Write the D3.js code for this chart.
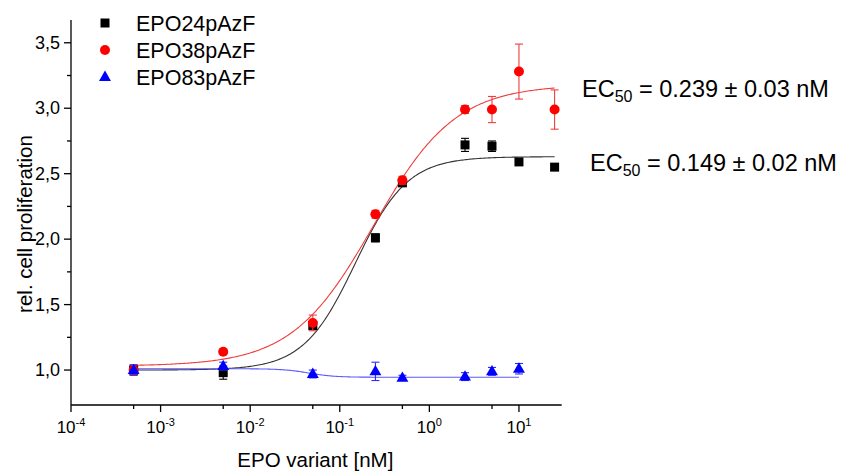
<!DOCTYPE html>
<html>
<head>
    <meta charset="utf-8">
    <title>EPO variants - cell proliferation</title>
    <script src="https://d3js.org/d3.v7.min.js"></script>
    <style>
        body { margin: 0; background: #fff; }
        text { font-family: "Liberation Sans", Arial, sans-serif; fill: #000; }
    </style>
</head>
<body>
    <script>
        // concentrations (nM)
        const conc = [0.0005, 0.005, 0.05, 0.25, 0.5, 2.5, 5, 10, 25];

        const epo24 = [1.00, 0.98, 1.34, 2.01, 2.43, 2.72, 2.71, 2.59, 2.55];
        const epo24Err = [0.03, 0.05, 0.03, 0.03, 0.02, 0.05, 0.04, 0.02, 0.02];

        const epo38 = [1.00, 1.14, 1.36, 2.19, 2.45, 2.99, 2.99, 3.28, 2.99];
        const epo38Err = [0.04, 0.02, 0.06, 0.03, 0.03, 0.03, 0.10, 0.21, 0.15];

        const epo83 = [1.00, 1.03, 0.97, 0.99, 0.94, 0.95, 0.99, 1.01];
        const epo83Err = [0.04, 0.03, 0.03, 0.07, 0.02, 0.03, 0.03, 0.04];

        // dose-response fit parameters (bottom, top, EC50, hill) per variant
        const fitBottom = [1.00, 1.03, 1.01];
        const fitTop = [2.63, 3.18, 0.945];
        const fitEC50 = [0.149, 0.239, 0.045];
        const fitHill = [1.5, 0.95, 3];

        const seriesNames = ["EPO24pAzF", "EPO38pAzF", "EPO83pAzF"];
        const xTicks = [1e-4, 1e-3, 1e-2, 1e-1, 1e0, 1e1];
        const xTickExp = ["-4", "-3", "-2", "-1", "0", "1"];
        const xMinor = [5e-4, 5e-3, 5e-2, 5e-1, 5e0];
        const yTicks = [1.0, 1.5, 2.0, 2.5, 3.0, 3.5];
        const yMinor = [1.25, 1.75, 2.25, 2.75, 3.25];
        const ec50Labels = ["0.239 \u00b1 0.03 nM", "0.149 \u00b1 0.02 nM"];

        const width = 845, height = 473;

        const x = d3.scaleLog().domain([1e-4, 30]).range([71, 561.7]);
        const y = d3.scaleLinear().domain([0.733, 3.674]).range([405, 20]);

        const svg = d3.select("body").append("svg")
            .attr("width", width)
            .attr("height", height);

        svg.append("rect").attr("width", width).attr("height", height).attr("fill", "#fff");

        // axes
        const axes = svg.append("g").attr("stroke", "#000").attr("stroke-width", 1.3);
        axes.append("line").attr("x1", 71).attr("x2", 561.7).attr("y1", 405).attr("y2", 405);
        axes.append("line").attr("x1", 71).attr("x2", 71).attr("y1", 20).attr("y2", 405);

        axes.selectAll(".xmaj").data(xTicks).enter().append("line")
            .attr("x1", d => x(d)).attr("x2", d => x(d))
            .attr("y1", 405).attr("y2", 412);
        axes.selectAll(".xmin").data(xMinor).enter().append("line")
            .attr("x1", d => x(d)).attr("x2", d => x(d))
            .attr("y1", 405).attr("y2", 409);
        axes.selectAll(".ymaj").data(yTicks).enter().append("line")
            .attr("x1", 64).attr("x2", 71)
            .attr("y1", d => y(d)).attr("y2", d => y(d));
        axes.selectAll(".ymin").data(yMinor).enter().append("line")
            .attr("x1", 67).attr("x2", 71)
            .attr("y1", d => y(d)).attr("y2", d => y(d));

        // tick labels
        const xl = svg.selectAll(".xlab").data(xTicks).enter().append("text")
            .attr("x", d => x(d))
            .attr("y", 433)
            .attr("text-anchor", "middle")
            .style("font-size", "17px");
        xl.append("tspan").text("10");
        xl.append("tspan").attr("dy", -7).style("font-size", "11px").text((d, i) => xTickExp[i]);

        svg.selectAll(".ylab").data(yTicks).enter().append("text")
            .attr("x", 60)
            .attr("y", d => y(d) + 6)
            .attr("text-anchor", "end")
            .style("font-size", "18px")
            .text(d => d3.format(".1f")(d).replace(".", ","));

        // axis titles
        svg.append("text")
            .attr("x", (x(1e-4) + x(30)) / 2 - 1)
            .attr("y", 467)
            .attr("text-anchor", "middle")
            .style("font-size", "20.5px")
            .text("EPO variant [nM]");
        svg.append("text")
            .attr("transform", "translate(32," + 224 + ") rotate(-90)")
            .attr("text-anchor", "middle")
            .style("font-size", "20.5px")
            .text("rel. cell proliferation");

        // fitted curves
        const curveColors = ["#333", "#f03c3c", "#5a5aff"];
        const curveEnd = [25, 25, 10];
        const line = d3.line().x(d => x(d[0])).y(d => y(d[1]));
        seriesNames.forEach((name, i) => {
            const lo = Math.log10(0.0005), hi = Math.log10(curveEnd[i]);
            const pts = d3.range(0, 301).map(k => {
                const c = Math.pow(10, lo + (hi - lo) * k / 300);
                const v = fitBottom[i] + (fitTop[i] - fitBottom[i]) / (1 + Math.pow(fitEC50[i] / c, fitHill[i]));
                return [c, v];
            });
            svg.append("path")
                .attr("d", line(pts))
                .attr("fill", "none")
                .attr("stroke", curveColors[i])
                .attr("stroke-width", 1.1);
        });

        // points with error bars
        const pointColors = ["#000", "#ff0000", "#0000ff"];
        const errColors = ["#000", "#f03c3c", "#2a2aff"];
        const values = [epo24, epo38, epo83];
        const errors = [epo24Err, epo38Err, epo83Err];

        function drawMarker(g, i, cx, cy) {
            if (i === 0) {
                g.append("rect").attr("x", cx - 4.5).attr("y", cy - 4.5)
                    .attr("width", 9).attr("height", 9).attr("fill", pointColors[i]);
            } else if (i === 1) {
                g.append("circle").attr("cx", cx).attr("cy", cy).attr("r", 5)
                    .attr("fill", pointColors[i]);
            } else {
                g.append("path")
                    .attr("d", d3.symbol().type(d3.symbolTriangle).size(62)())
                    .attr("transform", "translate(" + cx + "," + (cy + 0.5) + ")")
                    .attr("fill", pointColors[i]);
            }
        }

        values.forEach((vals, i) => {
            const g = svg.append("g");
            vals.forEach((v, j) => {
                const cx = x(conc[j]);
                const e = errors[i][j];
                const eg = g.append("g").attr("stroke", errColors[i]).attr("stroke-width", 1.1);
                eg.append("line").attr("x1", cx).attr("x2", cx).attr("y1", y(v - e)).attr("y2", y(v + e));
                eg.append("line").attr("x1", cx - 4).attr("x2", cx + 4).attr("y1", y(v - e)).attr("y2", y(v - e));
                eg.append("line").attr("x1", cx - 4).attr("x2", cx + 4).attr("y1", y(v + e)).attr("y2", y(v + e));
                drawMarker(g, i, cx, y(v));
            });
        });

        // legend
        const legend = svg.append("g");
        seriesNames.forEach((name, i) => {
            const ly = 23 + i * 27;
            drawMarker(legend, i, 105, ly);
            legend.append("text")
                .attr("x", 136)
                .attr("y", ly + 7.5)
                .style("font-size", "21.5px")
                .text(name);
        });

        // EC50 annotations
        const ecPos = [[582, 97], [590, 171]];
        ec50Labels.forEach((lab, i) => {
            const t = svg.append("text")
                .attr("x", ecPos[i][0])
                .attr("y", ecPos[i][1])
                .style("font-size", "23.5px");
            t.append("tspan").text("EC");
            t.append("tspan").attr("dy", 5).style("font-size", "16px").text("50");
            t.append("tspan").attr("dy", -5).text(" = " + lab);
        });
    </script>
</body>
</html>
